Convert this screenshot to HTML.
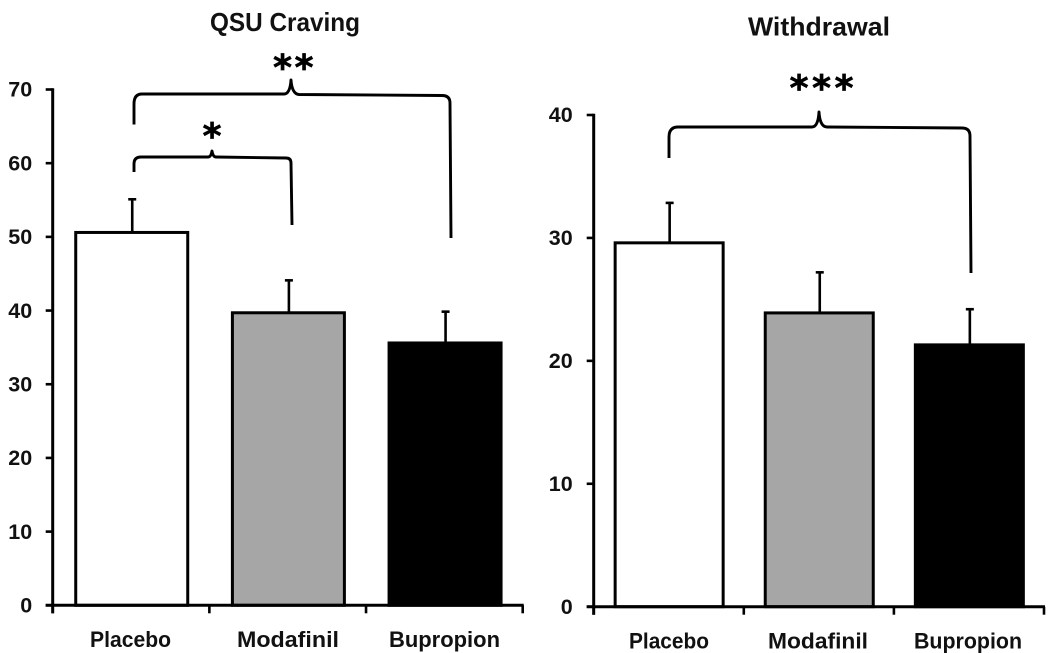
<!DOCTYPE html>
<html lang="en">
<head>
<meta charset="utf-8">
<title>QSU Craving and Withdrawal</title>
<style>
  html, body { margin: 0; padding: 0; background: #fff; }
  body { width: 1050px; height: 653px; overflow: hidden; }
  svg { display: block; }
  text { font-family: "Liberation Sans", sans-serif; font-weight: 700; fill: #111; }
  .star { font-family: "DejaVu Sans", sans-serif; font-size: 36px; text-anchor: middle; fill: #000; stroke: #000; stroke-width: 0.7; }
  .brace { fill: none; stroke: #000; stroke-width: 2.9; stroke-linejoin: round; }
</style>
</head>
<body>
<svg id="figure" xmlns="http://www.w3.org/2000/svg" width="1050" height="653" viewBox="0 0 1050 653">
  <rect width="1050" height="653" fill="#fff"/>
  <g id="craving-chart"></g>
  <g id="withdrawal-chart"></g>

  <g>
    <path class="brace" d="M134 124.500 V104 Q134 94 142 94 H284 Q290 94 291 80 Q292 94 299 94.500 L442 95.500 Q450 95.500 450 103 L451 238"/>
    <path class="brace" d="M134 172 V164 Q134 157 141 157 H208 Q211 157 212 151 Q213 157 216 157 L286 158 Q291 158 291 163 L292 225"/>
    <path class="brace" d="M669 158 V137 Q669 127 678 127 H812 Q818 127 819 112 Q820 127 827 127 L962 128 Q970 128 970 136 L971 273"/>
    <text class="star" x="282.500" y="80">*</text>
    <text class="star" x="304" y="80">*</text>
    <text class="star" x="212" y="148.500">*</text>
    <text class="star" x="799" y="100.500">*</text>
    <text class="star" x="821.500" y="100.500">*</text>
    <text class="star" x="844" y="100.500">*</text>
  </g>
</svg>

<script>
// Chart data
const categories = ["Placebo", "Modafinil", "Bupropion"];
const cravingMeans = [50.6, 39.7, 35.6];
const cravingErrors = [4.5, 4.4, 4.25];
const cravingTicks = [0, 10, 20, 30, 40, 50, 60, 70];
const withdrawalMeans = [29.6, 23.9, 21.3];
const withdrawalErrors = [3.25, 3.3, 2.9];
const withdrawalTicks = [0, 10, 20, 30, 40];

const SVG_NS = "http://www.w3.org/2000/svg";
const barFills = ["#ffffff", "#a6a6a6", "#000000"];

function shape(parent, tag, attrs, text) {
  const node = document.createElementNS(SVG_NS, tag);
  for (const key in attrs) node.setAttribute(key, attrs[key]);
  if (text !== undefined) node.textContent = text;
  parent.appendChild(node);
  return node;
}

function drawChart(root, title, means, errors, ticks, layout) {
  const yMax = ticks[ticks.length - 1];
  const yScale = v => layout.y0 - (v / yMax) * (layout.y0 - layout.yTop);
  const step = (layout.xEnd - layout.x0) / categories.length;
  const xCenter = i => layout.x0 + step * (i + 0.5) + layout.barShift;

  const titleEl = shape(root, "text", {
    x: layout.titleX, y: layout.titleY, "font-size": 26,
    textLength: layout.titleWidth, lengthAdjust: "spacingAndGlyphs"
  }, title);
  
  

  // Error bars sit behind the bars
  means.forEach((m, i) => {
    const cx = xCenter(i);
    const top = yScale(m + errors[i]);
    const stem = shape(root, "line", { x1: cx + 0.5, x2: cx + 0.5, y1: yScale(m), y2: top, stroke: "#000", "stroke-width": 2.6 });
    
    
    const cap = shape(root, "line", { x1: cx - 3.5, x2: cx + 4.5, y1: top, y2: top, stroke: "#000", "stroke-width": 2.6 });
    
    
  });

  means.forEach((m, i) => {
    const cx = xCenter(i);
    const bar = shape(root, "rect", {
      x: cx - layout.barHalf, y: yScale(m), width: layout.barHalf * 2, height: yScale(0) - yScale(m),
      fill: barFills[i], stroke: "#000", "stroke-width": 3
    });
    
    

    const label = shape(root, "text", {
      x: layout.labelX[i], y: layout.labelY, "font-size": 22,
      textLength: layout.labelWidths[i], lengthAdjust: "spacingAndGlyphs"
    }, categories[i]);
    
    
  });

  const yAxis = shape(root, "line", { x1: layout.x0, x2: layout.x0, y1: yScale(yMax) - 1.3, y2: yScale(0) + 8, stroke: "#000", "stroke-width": 3 });
  
  

  const xAxis = shape(root, "line", { x1: layout.x0 - 7, x2: layout.xEnd + 1, y1: yScale(0), y2: yScale(0), stroke: "#000", "stroke-width": 3 });
  
  

  ticks.forEach(t => {
    const y = yScale(t);
    const tick = shape(root, "line", { x1: layout.x0 - 7, x2: layout.x0, y1: y, y2: y, stroke: "#000", "stroke-width": 2.6 });
    
    
    const tickLabel = shape(root, "text", {
      x: layout.x0 - layout.tickGap, y: y + 7.2, "font-size": 21.5, "text-anchor": "end"
    }, String(t));
    
    
  });

  for (let i = 0; i <= categories.length; i++) {
    const x = layout.x0 + step * i;
    const xTick = shape(root, "line", { x1: x, x2: x, y1: yScale(0), y2: yScale(0) + 8, stroke: "#000", "stroke-width": 2.6 });
    
    
  }
}

drawChart(document.getElementById("craving-chart"), "QSU Craving",
  cravingMeans, cravingErrors, cravingTicks, {
    x0: 52.7, xEnd: 522.7, y0: 605.3, yTop: 89.5, barHalf: 56, barShift: 0.7, tickGap: 20.5,
    titleX: 210, titleY: 31, titleWidth: 150,
    labelX: [90, 237, 389], labelWidths: [81, 102, 111], labelY: 647
  });

drawChart(document.getElementById("withdrawal-chart"), "Withdrawal",
  withdrawalMeans, withdrawalErrors, withdrawalTicks, {
    x0: 593.7, xEnd: 1044, y0: 606.7, yTop: 115, barHalf: 54, barShift: 0.4, tickGap: 21,
    titleX: 748, titleY: 35.5, titleWidth: 142,
    labelX: [629, 768, 914], labelWidths: [80, 100, 108], labelY: 648.5
  });
</script>
</body>
</html>
